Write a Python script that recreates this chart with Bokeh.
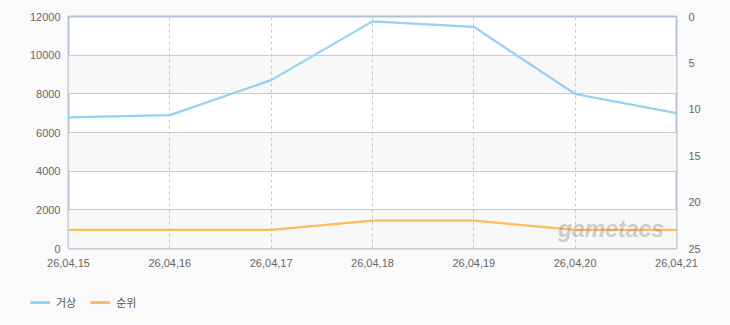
from bokeh.plotting import figure
from bokeh.layouts import column
from bokeh.models import Range1d, LinearAxis, FixedTicker, Legend, LegendItem, Label, ColumnDataSource
from bokeh.embed import file_html
from bokeh.resources import INLINE

dates = ["26,04,15", "26,04,16", "26,04,17", "26,04,18", "26,04,19", "26,04,20", "26,04,21"]
geosang = [6780, 6900, 8710, 11750, 11460, 7990, 7000]
rank = [23, 23, 23, 22, 22, 23, 23]
left_ticks = [0, 2000, 4000, 6000, 8000, 10000, 12000]
right_ticks = [0, 5, 10, 15, 20, 25]
series_names = ["거상", "순위"]
series_colors = ["#92d2f2", "#fbbd5c"]

xs = list(range(len(dates)))
src = ColumnDataSource(dict(x=xs, g=geosang, r=rank))

BG = "#fafafa"

p = figure(width=730, height=270, output_backend="svg", toolbar_location=None,
           x_range=Range1d(0, len(dates) - 1), y_range=Range1d(0, 12000),
           min_border_left=68, min_border_right=54, min_border_top=16, min_border_bottom=22)
p.extra_y_ranges = {"rank": Range1d(start=25, end=0)}

p.border_fill_color = BG
p.background_fill_color = "#ffffff"
p.outline_line_color = "#b4c4d6"
p.outline_line_width = 2

lbl_font = "Liberation Sans"

# alternating bands (below grid lines), derived from left ticks
band_bottoms = left_ticks[0:-1:2]
band_tops = left_ticks[1::2]
p.quad(left=[0] * len(band_bottoms), right=[len(dates) - 1] * len(band_bottoms),
       bottom=band_bottoms, top=band_tops, fill_color="#f8f8f8", line_color=None, level="image")

# axes
p.xaxis.ticker = FixedTicker(ticks=xs)
p.xaxis.major_label_overrides = {i: d for i, d in enumerate(dates)}
p.yaxis.ticker = FixedTicker(ticks=left_ticks)
for ax in [p.xaxis[0], p.yaxis[0]]:
    ax.axis_line_color = None
    ax.major_tick_line_color = None
    ax.minor_tick_line_color = None
    ax.major_label_text_font = lbl_font
    ax.major_label_text_font_size = "11px"
    ax.major_label_text_color = "#666666"
p.yaxis.major_label_standoff = 2
p.xaxis.major_label_standoff = 4

raxis = LinearAxis(y_range_name="rank", ticker=FixedTicker(ticks=right_ticks))
raxis.axis_line_color = None
raxis.major_tick_line_color = None
raxis.minor_tick_line_color = None
raxis.major_label_text_font = lbl_font
raxis.major_label_text_font_size = "11px"
raxis.major_label_text_color = "#666666"
raxis.major_label_standoff = 6
p.add_layout(raxis, "right")

# grids
p.ygrid.grid_line_color = "#cccccc"
p.ygrid.grid_line_width = 1
p.xgrid.grid_line_color = "#c8c8c8"
p.xgrid.grid_line_dash = "3 3"
p.xgrid.grid_line_width = 1

# watermark
p.add_layout(Label(x=4.83, y=330, text="gametacs", text_font=lbl_font,
                   text_font_size="23px", text_font_style="bold italic",
                   text_color="#8a8a8a", text_alpha=0.4, text_baseline="bottom"))

p.line("x", "g", source=src, line_color=series_colors[0], line_width=2.2)
p.line("x", "r", source=src, y_range_name="rank", line_color=series_colors[1], line_width=2.2)

# legend strip (separate figure without axes, so the legend can sit at the left edge)
q = figure(width=730, height=55, output_backend="svg", toolbar_location=None,
           x_range=Range1d(0, 730), y_range=Range1d(0, 55),
           x_axis_location=None, y_axis_location=None,
           min_border=0, min_border_left=0, min_border_right=0, min_border_top=0, min_border_bottom=0)
q.frame_align = False
p.frame_align = False
q.grid.visible = False
q.outline_line_color = None
q.border_fill_color = BG
q.background_fill_color = BG
dummies = [q.line(x=[-100, -90], y=[-100, -100], line_color=c, line_width=3) for c in series_colors]
legend = Legend(items=[LegendItem(label=n, renderers=[r]) for n, r in zip(series_names, dummies)],
                orientation="horizontal", location=(30, 13),
                border_line_color=None, background_fill_alpha=0,
                padding=0, margin=0, spacing=14, label_standoff=6,
                glyph_width=20, glyph_height=20, label_height=20,
                label_text_font="Noto Sans CJK KR", label_text_font_size="11px",
                label_text_color="#555555")
q.add_layout(legend, "center")

layout = column(p, q, spacing=0)
open("out.html", "w").write(file_html(layout, INLINE))
